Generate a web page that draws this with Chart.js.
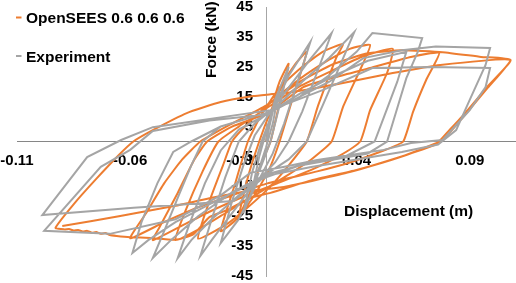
<!DOCTYPE html>
<html><head><meta charset="utf-8">
<script src="https://cdn.jsdelivr.net/npm/chart.js@4"></script>
<style>html,body{margin:0;padding:0;background:#fff}#wrap{width:516px;height:283px}</style>
</head><body><div id="wrap"><canvas id="c" width="516" height="283"></canvas></div>
<script>
const seriesNames = ['OpenSEES 0.6 0.6 0.6', 'Experiment'];
const xTitle = 'Displacement (m)';
const yTitle = 'Force (kN)';
const xTickValues = [-0.11, -0.06, -0.01, 0.04, 0.09];
const xTickLabels = ['-0.11', '-0.06', '-0.01', '0.04', '0.09'];
const yTickValues = [45, 35, 25, 15, 5, -5, -15, -25, -35, -45];
const yTickLabels = ['45', '35', '25', '15', '5', '-5', '-15', '-25', '-35', '-45'];

const openseesPoints = [
[0,0],[0.003,12],[0.006,20],[0.010,26],
[0.006,13],[0.002,0],
[-0.003,-9],[-0.007,-17],[-0.012,-25],
[-0.008,-12],[-0.003,0],
[0.002,10],[0.008,20],[0.013,26],[0.018,30],
[0.012,15],[0.006,0],
[0.001,-10],[-0.006,-19],[-0.013,-26],[-0.020,-30],
[-0.014,-15],[-0.008,0],
[-0.002,9],[0.006,18],[0.016,25],[0.025,30],[0.034,32.6],
[0.031,28],[0.023,12],[0.018,0],
[0.010,-8],[0.002,-15],[-0.008,-22],[-0.018,-28],[-0.030,-32.5],
[-0.025,-20],[-0.019,-8],[-0.015,0],
[-0.008,6],[0.002,13],[0.015,21],[0.027,27],[0.037,31],[0.046,32.3],
[0.0416,24],[0.034,11.5],[0.029,0],
[0.020,-6],[0.008,-12],[-0.005,-18],[-0.018,-24],[-0.030,-29.5],[-0.040,-33],
[-0.036,-24],[-0.028,-10],[-0.021,0],
[-0.012,5],[0.000,11],[0.015,18.5],[0.030,24],[0.043,28.5],[0.056,31],
[0.0535,23],[0.046,10.5],[0.0416,0],
[0.032,-5],[0.020,-9.5],[0.005,-14],[-0.010,-18.5],[-0.025,-23.5],[-0.038,-28.5],[-0.050,-33],
[-0.047,-28.6],[-0.039,-17.2],[-0.032,-6.5],[-0.026,0],
[-0.015,5],[0.0006,9.5],[0.0165,18.2],[0.031,21.6],[0.046,24.6],[0.064,28.3],[0.0765,29.6],
[0.071,21],[0.065,10],[0.0606,0],
[0.052,-3],[0.037,-7],[0.0226,-10],[0.0006,-14],[-0.015,-18],[-0.030,-22],[-0.045,-27],[-0.060,-32.4],
[-0.053,-24],[-0.045,-14],[-0.037,-6],[-0.029,0],
[-0.015,6],[0.000,12],[0.015,20],[0.030,26],[0.045,29.5],[0.060,30.5],[0.078,29.9],[0.095,28.3],[0.108,27.3],
[0.098,18],[0.088,9],[0.080,2],[0.077,0],
[0.060,-5],[0.040,-9.5],[0.020,-13],[0.002,-17.2],[-0.007,-18.9],[-0.017,-22.9],[-0.025,-25.3],[-0.032,-31],[-0.040,-32.9],[-0.051,-32.3],[-0.060,-32],[-0.066,-31.6],
[-0.069,-31.3],[-0.071,-30.6],[-0.073,-30.9],[-0.075,-30.3],[-0.077,-30.5],[-0.079,-29.9],[-0.081,-30.1],[-0.083,-29.6],[-0.085,-29.8],[-0.087,-29.3],[-0.089,-29.4],[-0.093,-28.9],
[-0.085,-21],[-0.075,-12.5],[-0.065,-4.5],[-0.0586,0],
[-0.050,3.8],[-0.035,9.5],[-0.020,13.2],[-0.0056,15.2],[0.002,15.8],[0.012,16.6],[0.034,19.6],[0.056,22.9],[0.077,25.6],[0.108,27.3],
[0.098,18.5],[0.088,9.5],[0.081,3.8],[0.075,-1],[0.062,-4.5],[0.037,-10.2],[0.008,-15.2],[-0.007,-16.5],[-0.025,-19],[-0.040,-21.5],[-0.065,-25],[-0.090,-28.3]
];

const experimentPoints = [
[0,0],[0.003,10],[0.006,18],[0.003,6],[0,-2],[-0.003,-9],[-0.006,-16],[-0.003,-5],[0,3],
[0.004,14],[0.010,25],[0.006,12],[0.002,0],[-0.004,-12],[-0.010,-24],[-0.006,-10],[-0.002,0],
[0.004,12],[0.010,22],[0.0196,33.3],[0.014,20],[0.008,6],[0.003,-4],[-0.004,-14],[-0.012,-26],[-0.020,-34],[-0.015,-20],[-0.010,-8],[-0.005,2],
[0.002,10],[0.010,18],[0.020,28],[0.029,36.3],[0.023,24],[0.016,10],[0.010,0],[0.004,-7],[-0.006,-15],[-0.016,-25],[-0.024,-33],[-0.029,-38.3],[-0.024,-26],[-0.018,-12],[-0.012,0],[-0.005,6],
[0.005,12],[0.016,20],[0.028,28],[0.039,36.6],[0.033,26],[0.025,12],[0.018,0],[0.010,-6],[0.000,-11],[-0.012,-18],[-0.024,-26],[-0.033,-33],[-0.039,-39],[-0.034,-28],[-0.027,-14],[-0.020,-3],[-0.012,4],
[0.000,9],[0.015,15],[0.028,22.2],[0.040,30],[0.047,36.3],[0.069,34.6],[0.067,29.9],[0.062,21.2],[0.058,11.2],[0.0535,0],[0.045,-4],[0.030,-6],[0.015,-8],[0.000,-11],[-0.015,-17],[-0.030,-25],[-0.042,-33],[-0.050,-39],[-0.045,-30],[-0.038,-17],[-0.033,-8],[-0.028,0],[-0.020,5],
[0.002,10],[0.015,16],[0.030,22],[0.045,27],[0.062,30],[0.058,20],[0.052,8],[0.048,0],[0.035,-5],[0.015,-8],[0.000,-12],[-0.020,-19],[-0.040,-27],[-0.052,-33],[-0.059,-37.3],[-0.055,-27],[-0.048,-14],[-0.041,-3.5],[-0.033,0],[-0.020,5],[0.002,10],
[0.015,15],[0.028,20],[0.043,27.9],[0.060,30.5],[0.075,31.8],[0.099,31.3],[0.097,25.6],[0.090,13.9],[0.084,3.8],[0.076,-1],[0.060,-3.5],[0.040,-6],[0.020,-8.5],[0.000,-11.5],[-0.0144,-19.9],[-0.035,-21],[-0.0585,-22.2],[-0.0988,-24.6],[-0.079,-5.2],[-0.064,0.5],[-0.050,4.8],[0.002,10.5],
[0.025,17.2],[0.047,24.6],[0.0725,24.9],[0.099,24.6],[0.097,18.2],[0.090,10.5],[0.078,0.5],[0.064,-0.5],[0.052,-2.8],[0.0226,-6.2],[0.0076,-8.5],[-0.007,-10.5],[-0.020,-18],[-0.040,-26],[-0.069,-30.9],[-0.098,-29.9],[-0.073,-8.5],[-0.060,-2.8],[-0.050,3.5],[-0.025,7],[0,9]
];

const seriesColors = ['#ED7D31', '#A5A5A5'];
const FONT = '"Liberation Sans", Arial, sans-serif';
Chart.defaults.font.family = FONT;

const toXY = pts => pts.map(p => ({x: p[0], y: p[1]}));

const yLabelGap = 13;

const overlay = {
  id: 'overlay',
  beforeDraw(chart) {
    const s = chart.scales.y;
    const items = s.getLabelItems();
    if (!items._shifted) {
      items.forEach(it => { it.options.translation[0] -= yLabelGap; });
      items._shifted = true;
    }
  },
  afterDraw(chart) {
    const ctx = chart.ctx;
    ctx.save();
    ctx.font = 'bold 15.5px ' + FONT;
    ctx.fillStyle = '#000';
    ctx.textAlign = 'left';
    ctx.textBaseline = 'alphabetic';
    ctx.fillText(xTitle, 344, 215.5);
    ctx.save();
    ctx.translate(215.5, 78);
    ctx.rotate(-Math.PI / 2);
    ctx.fillText(yTitle, 0, 0);
    ctx.restore();
    const rows = [23, 61.5];
    chart.data.datasets.forEach((ds, i) => {
      const y = rows[i];
      ctx.strokeStyle = ds.borderColor;
      ctx.lineWidth = 2;
      ctx.beginPath();
      ctx.moveTo(16, y - 5.5);
      ctx.lineTo(21.5, y - 5.5);
      ctx.stroke();
      ctx.fillStyle = '#000';
      ctx.fillText(ds.label, 26, y);
    });
    ctx.restore();
  }
};

function zeroPad(s) { s.paddingLeft = 0; s.paddingRight = 0; s.paddingTop = 0; s.paddingBottom = 0; }

new Chart(document.getElementById('c'), {
  type: 'scatter',
  data: {
    datasets: [
      {label: seriesNames[0], data: toXY(openseesPoints), borderColor: seriesColors[0], backgroundColor: seriesColors[0], showLine: true, pointRadius: 0, borderWidth: 2, tension: 0.15, order: 1},
      {label: seriesNames[1], data: toXY(experimentPoints), borderColor: seriesColors[1], backgroundColor: seriesColors[1], showLine: true, pointRadius: 0, borderWidth: 2, tension: 0, order: 0}
    ]
  },
  options: {
    responsive: false,
    animation: false,
    devicePixelRatio: 1,
    layout: {padding: {left: 17, right: 1, top: 7, bottom: 7}},
    plugins: {legend: {display: false}, tooltip: {enabled: false}},
    scales: {
      x: {
        type: 'linear', min: -0.11, max: 0.11, position: {y: 0},
        grid: {display: false, drawTicks: false},
        border: {display: true, color: '#868686', width: 1},
        ticks: {
          autoSkip: false, maxRotation: 0, padding: 10, color: '#000',
          font: {size: 15, weight: 'bold'},
          callback: v => { const i = xTickValues.findIndex(t => Math.abs(t - v) < 1e-9); return i >= 0 ? xTickLabels[i] : ''; }
        },
        afterBuildTicks: s => { s.ticks = xTickValues.map(v => ({value: v})); },
        afterFit: zeroPad
      },
      y: {
        type: 'linear', min: -45, max: 45, position: {x: 0},
        grid: {display: false, drawTicks: false},
        border: {display: true, color: '#A6A6A6', width: 1},
        ticks: {
          autoSkip: false, padding: 13, color: '#000',
          font: {size: 15, weight: 'bold'},
          callback: v => { const i = yTickValues.findIndex(t => Math.abs(t - v) < 1e-9); return i >= 0 ? yTickLabels[i] : ''; }
        },
        afterBuildTicks: s => { s.ticks = yTickValues.map(v => ({value: v})); },
        afterFit: zeroPad
      }
    }
  },
  plugins: [overlay]
});
</script>
</body></html>
